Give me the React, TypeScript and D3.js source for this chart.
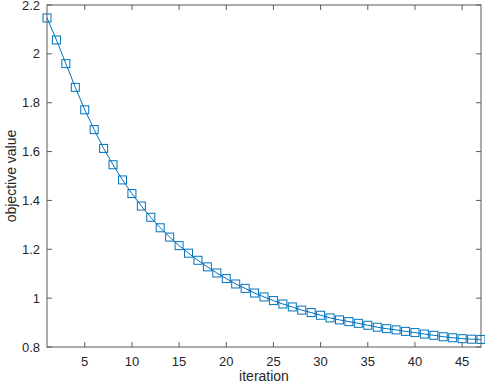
import React, { useEffect, useRef } from "react";
import * as d3 from "d3";

const iterations = d3.range(1, 48);
const objective = [
  2.147, 2.057, 1.96, 1.863, 1.771, 1.69, 1.613, 1.546, 1.484, 1.428,
  1.377, 1.331, 1.288, 1.25, 1.215, 1.184, 1.155, 1.128, 1.103, 1.08,
  1.058, 1.04, 1.021, 1.005, 0.99, 0.976, 0.964, 0.951, 0.941, 0.93,
  0.919, 0.911, 0.904, 0.897, 0.889, 0.881, 0.875, 0.87, 0.864, 0.859,
  0.853, 0.848, 0.842, 0.838, 0.834, 0.832, 0.831,
];
const xTicks = [5, 10, 15, 20, 25, 30, 35, 40, 45];
const yTicks = [0.8, 1, 1.2, 1.4, 1.6, 1.8, 2, 2.2];

const App = () => {
  const ref = useRef<SVGSVGElement | null>(null);

  useEffect(() => {
    if (!ref.current) return;
    const width = 485;
    const height = 386;
    const m = { top: 5, right: 4, bottom: 39, left: 47 };
    const svg = d3.select(ref.current);
    svg.selectAll("*").remove();

    const x = d3.scaleLinear().domain([1, 47]).range([m.left, width - m.right]);
    const y = d3.scaleLinear().domain([0.8, 2.2]).range([height - m.bottom, m.top]);
    const axisColor = "#5a5a5a";
    const textColor = "#262626";
    const font = "'Liberation Sans', Arial, sans-serif";

    const g = svg.append("g");
    const x0 = x(1), x1 = x(47), y0 = y(0.8), y1 = y(2.2);

    // box
    g.append("rect")
      .attr("x", x0)
      .attr("y", y1)
      .attr("width", x1 - x0)
      .attr("height", y0 - y1)
      .attr("fill", "none")
      .attr("stroke", axisColor)
      .attr("stroke-width", 1);

    const tl = 5;
    // x ticks (inward, bottom and top)
    xTicks.forEach((t) => {
      g.append("line").attr("x1", x(t)).attr("x2", x(t)).attr("y1", y0).attr("y2", y0 - tl)
        .attr("stroke", axisColor);
      g.append("line").attr("x1", x(t)).attr("x2", x(t)).attr("y1", y1).attr("y2", y1 + tl)
        .attr("stroke", axisColor);
      g.append("text").attr("x", x(t)).attr("y", y0 + 19)
        .attr("text-anchor", "middle").attr("font-family", font).attr("font-size", 13)
        .attr("fill", textColor).text(t);
    });
    yTicks.forEach((t) => {
      g.append("line").attr("x1", x0).attr("x2", x0 + tl).attr("y1", y(t)).attr("y2", y(t))
        .attr("stroke", axisColor);
      g.append("line").attr("x1", x1).attr("x2", x1 - tl).attr("y1", y(t)).attr("y2", y(t))
        .attr("stroke", axisColor);
      g.append("text").attr("x", x0 - 7).attr("y", y(t)).attr("dy", "0.35em")
        .attr("text-anchor", "end").attr("font-family", font).attr("font-size", 13)
        .attr("fill", textColor).text(d3.format("~g")(t));
    });

    const data = iterations.map((it, i) => [it, objective[i]] as [number, number]);
    const line = d3.line<[number, number]>().x((d) => x(d[0])).y((d) => y(d[1]));
    g.append("path").datum(data).attr("d", line).attr("fill", "none")
      .attr("stroke", "#0072BD").attr("stroke-width", 1);

    const s = 8;
    g.selectAll("rect.mk").data(data).enter().append("rect")
      .attr("class", "mk")
      .attr("x", (d) => x(d[0]) - s / 2)
      .attr("y", (d) => y(d[1]) - s / 2)
      .attr("width", s)
      .attr("height", s)
      .attr("fill", "none")
      .attr("stroke", "#0072BD")
      .attr("stroke-width", 1);

    g.append("text").attr("x", (x0 + x1) / 2).attr("y", 381)
      .attr("text-anchor", "middle").attr("font-family", font).attr("font-size", 14)
      .attr("fill", textColor).text("iteration");
    g.append("text")
      .attr("transform", `translate(16, ${(y0 + y1) / 2}) rotate(-90)`)
      .attr("text-anchor", "middle").attr("font-family", font).attr("font-size", 14)
      .attr("fill", textColor).text("objective value");
  }, []);

  return (
    <div style={{ position: "fixed", left: 0, top: 0 }}>
      <svg ref={ref} width={485} height={386} style={{ display: "block", background: "#fff" }} />
    </div>
  );
};

export default App;
